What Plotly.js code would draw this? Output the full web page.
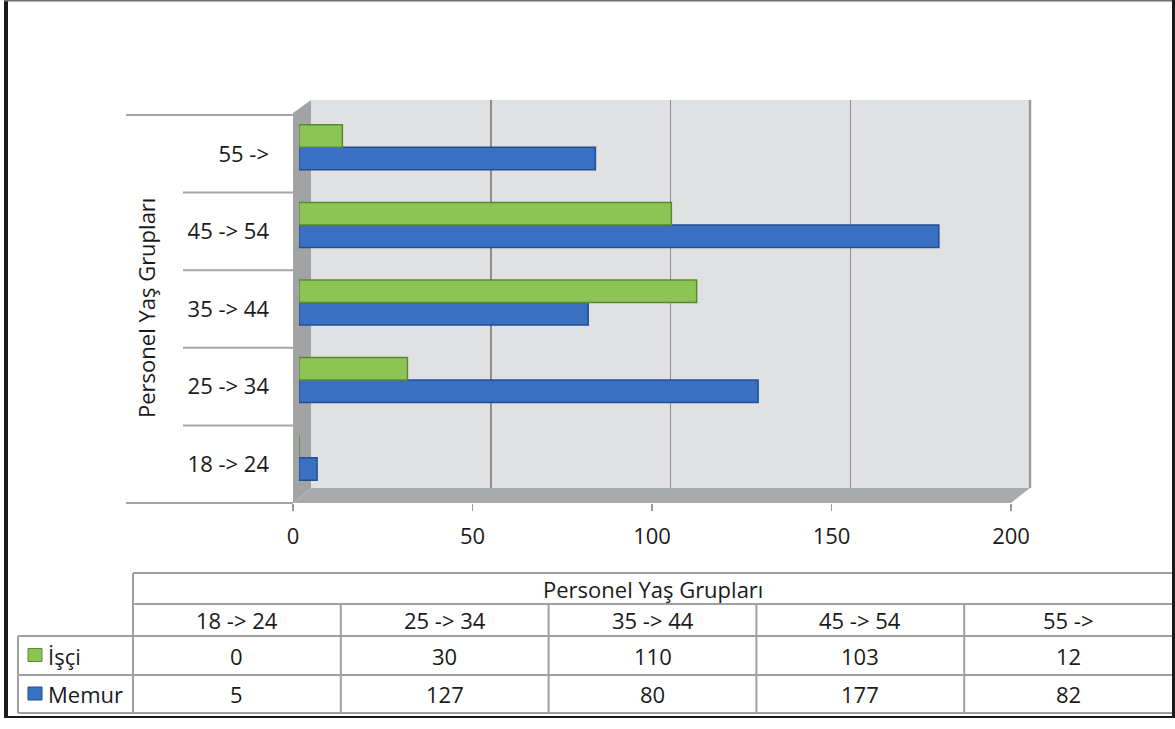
<!DOCTYPE html>
<html><head><meta charset="utf-8">
<script src="https://cdn.plot.ly/plotly-3.0.1.min.js"></script>
<style>html,body{margin:0;padding:0;background:#fff;}#chart{width:1175px;height:729px;}</style>
</head><body><div id="chart"></div>
<script>
// ---- data ----
const categories = ['18 -> 24', '25 -> 34', '35 -> 44', '45 -> 54', '55 ->'];
const isciValues = [0, 30, 110, 103, 12];
const memurValues = [5, 127, 80, 177, 82];
const seriesNames = ['İşçi', 'Memur'];
const xTickValues = [0, 50, 100, 150, 200];
const axisTitle = 'Personel Yaş Grupları';

// ---- helpers ----
const W = 1175, H = 729;
const px = x => x / W;
const py = y => 1 - y / H;
const FONT = '"Open Sans", sans-serif';
const TXT = '#1a1a1a';
const FS = 22;

const front = {x0: 293, x1: 1011, y0: 115, y1: 503};
const back = {x0: 311, x1: 1030, y0: 100, y1: 488};
const barBox = {x0: 299, x1: 1022, y0: 108.5, y1: 496.5};

const colors = {
  isci: {fill: '#8cc556', line: '#5a8a2e'},
  memur: {fill: '#3a70c2', line: '#214f94'}
};

const traces = [
  {type: 'scatter', x: [], y: [], xaxis: 'x', yaxis: 'y', showlegend: false, hoverinfo: 'skip'},
  {type: 'bar', orientation: 'h', name: seriesNames[1], y: categories, x: memurValues,
   xaxis: 'x2', yaxis: 'y2', marker: {color: colors.memur.fill, line: {color: colors.memur.line, width: 1.5}}},
  {type: 'bar', orientation: 'h', name: seriesNames[0], y: categories, x: isciValues,
   xaxis: 'x2', yaxis: 'y2', marker: {color: colors.isci.fill, line: {color: colors.isci.line, width: 1.5}}},
  {type: 'scatter', x: [], y: [], xaxis: 'x3', yaxis: 'y3', showlegend: false, hoverinfo: 'skip'}
];

const shapes = [];
const annotations = [];

// 3D walls (decoration)
shapes.push({type: 'rect', xref: 'paper', yref: 'paper', layer: 'below',
  x0: px(back.x0), x1: px(back.x1), y0: py(back.y1), y1: py(back.y0),
  fillcolor: '#e0e1e3', line: {width: 0}});
shapes.push({type: 'line', xref: 'paper', yref: 'paper', layer: 'below',
  x0: px(back.x1), x1: px(back.x1), y0: py(back.y1), y1: py(back.y0),
  line: {color: '#9c9c9c', width: 2.5}});
const path = pts => 'M ' + pts.map(p => px(p[0]) + ' ' + py(p[1])).join(' L ') + ' Z';
shapes.push({type: 'path', xref: 'paper', yref: 'paper', layer: 'below',
  path: path([[front.x0, front.y0 - 2], [back.x0, back.y0], [back.x0, back.y1], [front.x0, front.y1]]),
  fillcolor: '#a2a3a5', line: {width: 0}});
shapes.push({type: 'path', xref: 'paper', yref: 'paper', layer: 'below',
  path: path([[front.x0, front.y1], [back.x0, back.y1], [back.x1, back.y1], [front.x1, front.y1]]),
  fillcolor: '#a9aaac', line: {width: 0}});

// category separators
const n = categories.length;
const band = (front.y1 - front.y0) / n;
for (let i = 0; i <= n; i++) {
  const yy = front.y1 - i * band;
  const xs = (i === 0 || i === n) ? 126 : 183;
  shapes.push({type: 'line', xref: 'paper', yref: 'paper',
    x0: px(xs), x1: px(front.x0), y0: py(yy), y1: py(yy),
    line: {color: '#a6a6a6', width: 2}});
}

// y axis title
annotations.push({text: axisTitle, xref: 'paper', yref: 'paper', x: px(146), y: py(308),
  xanchor: 'center', yanchor: 'middle',
  textangle: -90, showarrow: false, font: {family: FONT, size: FS, color: TXT}});

// ---- data table ----
const tb = {left: 18, first: 133, right: 1172, top: 573, h1: 604, h2: 636, r1: 675, bottom: 713};
const colW = (tb.right - tb.first) / n;
const tline = (x0, y0, x1, y1) => shapes.push({type: 'line', xref: 'paper', yref: 'paper',
  x0: px(x0), x1: px(x1), y0: py(y0), y1: py(y1), line: {color: '#a0a0a0', width: 2}});
tline(tb.first, tb.top, tb.right, tb.top);
tline(tb.first, tb.h1, tb.right, tb.h1);
tline(tb.left, tb.h2, tb.right, tb.h2);
tline(tb.left, tb.r1, tb.right, tb.r1);
tline(tb.left, tb.bottom, tb.right, tb.bottom);
tline(tb.left, tb.h2, tb.left, tb.bottom);
tline(tb.first, tb.top, tb.first, tb.bottom);
for (let i = 1; i < n; i++) tline(tb.first + i * colW, tb.h1, tb.first + i * colW, tb.bottom);

const tAnn = (text, x, y, anchor) => annotations.push({text: text, xref: 'paper', yref: 'paper',
  x: px(x), y: py(y), xanchor: anchor || 'center', yanchor: 'middle', showarrow: false,
  font: {family: FONT, size: FS, color: TXT}});
tAnn(axisTitle, (tb.first + tb.right) / 2, (tb.top + tb.h1) / 2);
const rowY = [(tb.h2 + tb.r1) / 2, (tb.r1 + tb.bottom) / 2];
const rowVals = [isciValues, memurValues];
categories.forEach((c, i) => {
  const cx = tb.first + (i + 0.5) * colW;
  tAnn(c, cx, (tb.h1 + tb.h2) / 2);
  tAnn(String(rowVals[0][i]), cx, rowY[0]);
  tAnn(String(rowVals[1][i]), cx, rowY[1]);
});
// legend keys in table
const keyCols = [colors.isci, colors.memur];
seriesNames.forEach((nm, r) => {
  const cy = rowY[r];
  shapes.push({type: 'rect', xref: 'paper', yref: 'paper',
    x0: px(28), x1: px(42), y0: py(cy + 6), y1: py(cy - 7),
    fillcolor: keyCols[r].fill, line: {color: keyCols[r].line, width: 1}});
  tAnn(nm, 46, cy, 'left');
});

// outer frame
shapes.push({type: 'line', xref: 'paper', yref: 'paper', x0: px(6), x1: px(6), y0: py(0), y1: py(718),
  line: {color: '#1a1a1a', width: 4}});
shapes.push({type: 'line', xref: 'paper', yref: 'paper', x0: px(4), x1: px(1175), y0: py(0.8), y1: py(0.8),
  line: {color: '#707070', width: 1.5}});
shapes.push({type: 'line', xref: 'paper', yref: 'paper', x0: px(1173.5), x1: px(1173.5), y0: py(0), y1: py(718),
  line: {color: '#1a1a1a', width: 3}});
shapes.push({type: 'line', xref: 'paper', yref: 'paper', x0: px(4), x1: px(1175), y0: py(717), y1: py(717),
  line: {color: '#1a1a1a', width: 2}});

const layout = {
  width: W, height: H,
  margin: {l: 0, r: 0, t: 0, b: 0},
  paper_bgcolor: '#ffffff',
  plot_bgcolor: 'rgba(0,0,0,0)',
  showlegend: false,
  hovermode: false,
  barmode: 'group',
  bargap: 0.42,
  bargroupgap: 0,
  font: {family: FONT, size: FS, color: TXT},
  // back wall with gridlines
  xaxis: {domain: [px(back.x0), px(back.x1)], range: [0, 200], tickvals: xTickValues,
    showgrid: true, gridcolor: '#8e8e8e', gridwidth: 1.5, zeroline: false,
    showticklabels: false, ticks: '', showline: false, anchor: 'y', fixedrange: true},
  yaxis: {domain: [py(back.y1), py(back.y0)], range: [0, 1], showgrid: false, zeroline: false,
    showticklabels: false, ticks: '', showline: false, anchor: 'x', fixedrange: true},
  // bars
  xaxis2: {domain: [px(barBox.x0), px(barBox.x1)], range: [0, 200], visible: false, anchor: 'y2', fixedrange: true},
  yaxis2: {domain: [py(barBox.y1), py(barBox.y0)], type: 'category', categoryorder: 'array',
    categoryarray: categories, range: [-0.5, n - 0.5], visible: false, anchor: 'x2', fixedrange: true},
  // front axis: tick labels
  xaxis3: {domain: [px(front.x0), px(front.x1)], range: [0, 200], tickvals: xTickValues,
    ticks: 'outside', ticklen: 7, tickwidth: 1.5, tickcolor: '#9a9a9a', showgrid: false, zeroline: false,
    showline: false, ticklabelstandoff: 7, tickfont: {family: FONT, size: FS, color: TXT},
    anchor: 'y3', fixedrange: true},
  yaxis3: {domain: [py(front.y1), py(front.y0)], range: [-0.5, n - 0.5],
    tickvals: categories.map((c, i) => i), ticktext: categories, ticks: '', showgrid: false,
    zeroline: false, showline: false, ticklabelstandoff: 23,
    tickfont: {family: FONT, size: FS, color: TXT}, anchor: 'x3', fixedrange: true},
  shapes: shapes,
  annotations: annotations
};

Plotly.newPlot('chart', traces, layout, {staticPlot: true, displayModeBar: false});
</script>
</body></html>
